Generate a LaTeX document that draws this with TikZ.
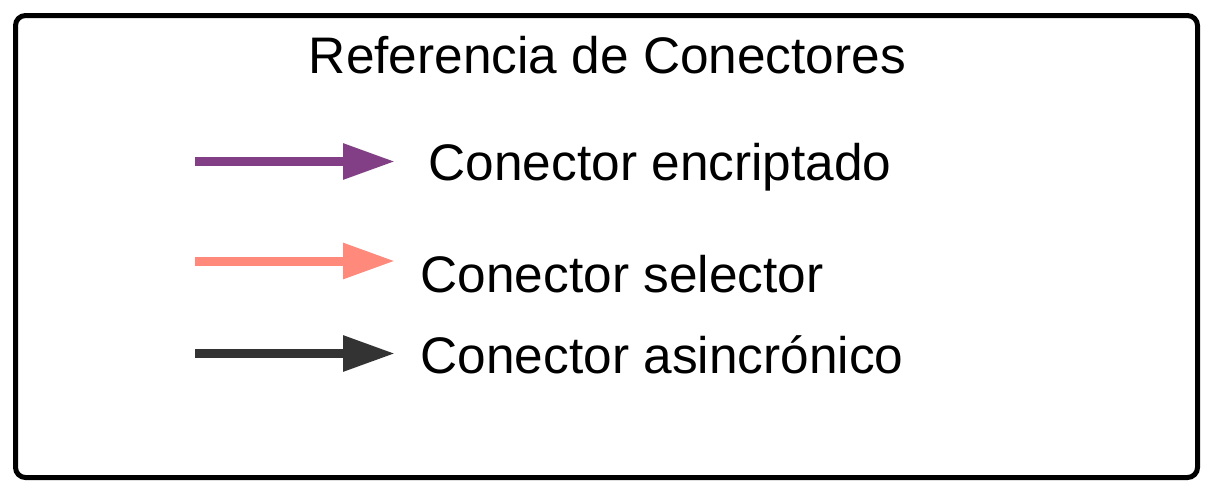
\documentclass[tikz,border=0pt]{standalone}
\usepackage{fontspec}
\setmainfont{Liberation Sans}
\usepackage{tikz}
\usetikzlibrary{arrows.meta,positioning}

\definecolor{encrip}{HTML}{833F86}
\definecolor{selec}{HTML}{FF8A7C}
\definecolor{asinc}{HTML}{333333}

\tikzset{
	legtext/.style={anchor=base west,inner sep=0pt,font=\fontsize{51.4}{60}\selectfont},
	legarrow/.style={line width=9pt,-{Triangle[length=52pt,width=34pt]}}
}

\begin{document}
\begin{tikzpicture}[x=1pt,y=-1pt]
			\useasboundingbox (0,0) rectangle (1210,491);
			% frame
			\draw[line width=5pt,rounded corners=10pt] (15.5,15.5) rectangle (1197.5,477.5);
			% title
			\node[legtext,anchor=base] (title) at (607.5,73) {Referencia de Conectores};
			% legend entries
			\foreach \name/\y/\ty/\tx/\col/\txt in {
				enc/161.5/180/428.5/encrip/Conector encriptado,
				sel/261/292/420.5/selec/Conector selector,
				asi/353.5/373/420.5/asinc/Conector asincrónico} {
				\coordinate (\name a) at (195,\y);
				\coordinate (\name b) at (395,\y);
				\draw[legarrow,\col] (\name a) -- (\name b);
				\node[legtext] (\name t) at (\tx,\ty) {\txt};
			}
		\end{tikzpicture}
\end{document}
